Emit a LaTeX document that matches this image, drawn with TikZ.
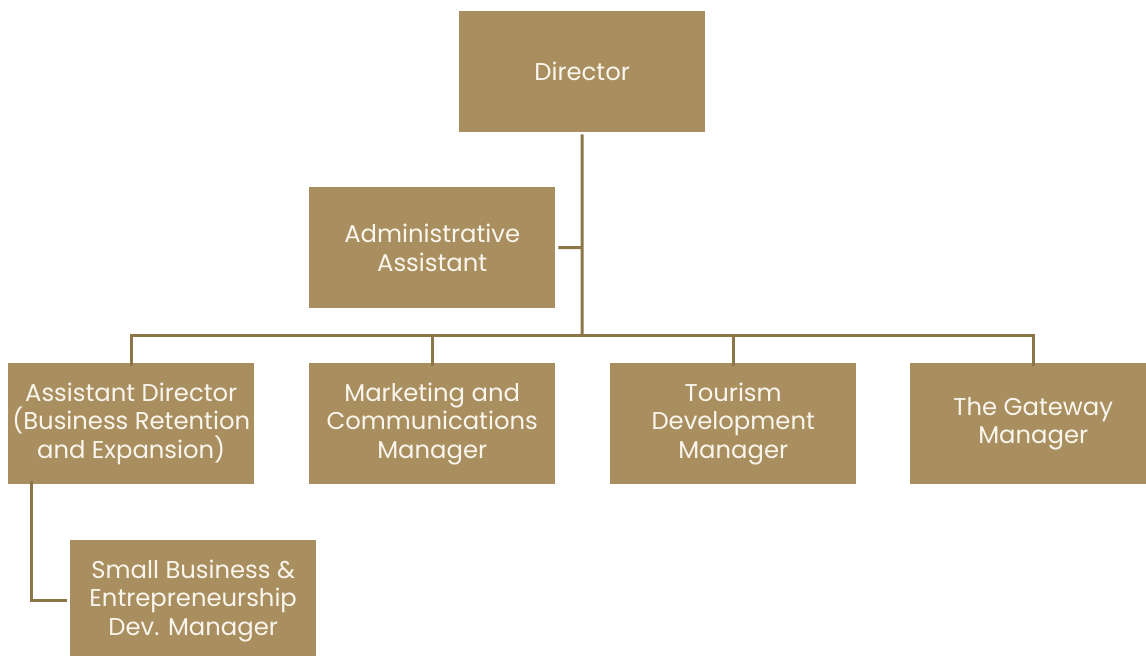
\documentclass[tikz,border=0pt]{standalone}
\usepackage{fontspec}
\setmainfont{Poppins}
\definecolor{boxfill}{HTML}{A98F5F}
\definecolor{linecol}{HTML}{8C7549}
\definecolor{txtcol}{HTML}{FAF6EE}
\begin{document}
\begin{tikzpicture}[x=1pt,y=-1pt,
  orgbox/.style={fill=boxfill, draw=none, minimum width=246pt, minimum height=121pt,
    inner sep=0pt, text=txtcol, align=center, font=\fontsize{24.3}{28.5}\selectfont, anchor=north west},
  conn/.style={draw=linecol, line width=3pt}]
\useasboundingbox (0,0) rectangle (1146,656);
\node[orgbox] (dir) at (459,11) {Director};
\node[orgbox] (adm) at (309,187) {Administrative\\Assistant};
\node[orgbox] (ad) at (8,363) {Assistant Director\\(Business Retention\\and Expansion)};
\node[orgbox] (mkt) at (309,363) {Marketing and\\Communications\\Manager};
\node[orgbox] (tour) at (610,363) {Tourism\\Development\\Manager};
\node[orgbox] (gate) at (910,363) {The Gateway\\Manager};
\node[orgbox] (sb) at (70,540) {Small Business \&\\Entrepreneurship\\Dev. Manager};
\coordinate (bus) at (582,335);
\coordinate (admj) at (582,247.5);
\coordinate (sbj) at (31,601);
\draw[conn] ([yshift=-2pt]dir.south) -- (bus);
\draw[conn] ([xshift=3pt]adm.east) -- (admj);
\draw[conn] ([yshift=-3pt]ad.north) |- (bus) -| ([yshift=-3pt]gate.north);
\draw[conn] ([yshift=-3pt]mkt.north) -- (mkt.north |- bus);
\draw[conn] ([yshift=-3pt]tour.north) -- (tour.north |- bus);
\draw[conn] ([yshift=3pt]ad.south -| sbj) |- ([xshift=-3pt]sb.west);
\end{tikzpicture}
\end{document}
